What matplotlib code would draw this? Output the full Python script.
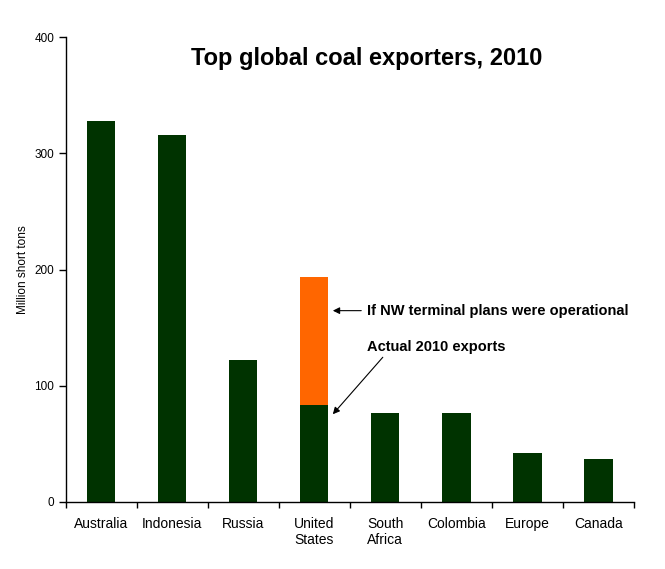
import matplotlib
matplotlib.use("Agg")
import matplotlib.pyplot as plt
import numpy as np

plt.rcParams['font.family'] = ['Liberation Sans', 'DejaVu Sans']

categories = ["Australia", "Indonesia", "Russia", "United\nStates",
              "South\nAfrica", "Colombia", "Europe", "Canada"]
actual_exports = [328, 316, 122, 83.4, 76.5, 76.5, 42, 37]
extra_if_terminal = [0, 0, 0, 110.3, 0, 0, 0, 0]
yticks = [0, 100, 200, 300, 400]

green = "#003300"
orange = "#FF6600"

fig = plt.figure(figsize=(6.65, 5.69), dpi=100)
ax = fig.add_axes([65.5/665, (569-502)/569, (634-65.5)/665, (502-37)/569])

x = np.arange(len(categories))
ax.bar(x, actual_exports, width=0.4, color=green, zorder=2)
ax.bar(x, extra_if_terminal, width=0.4, bottom=actual_exports, color=orange, zorder=2)

ax.set_xlim(-0.5, len(categories) - 0.5)
ax.set_ylim(0, 400)
ax.set_yticks(yticks)
ax.tick_params(axis='y', direction='out', length=5, width=1, labelsize=8.5, pad=3)

ax.set_xticks(np.arange(len(categories) + 1) - 0.5)
ax.set_xticklabels([])
ax.tick_params(axis='x', which='major', direction='out', length=4, width=1)
ax.set_xticks(x, minor=True)
ax.set_xticklabels(categories, minor=True, fontsize=10)
ax.tick_params(axis='x', which='minor', length=0, pad=11)

for s in ['top', 'right']:
    ax.spines[s].set_visible(False)
for s in ['left', 'bottom']:
    ax.spines[s].set_linewidth(1)

ax.set_ylabel("Million short tons", fontsize=8.5, labelpad=4)

fig.text(367/665, 1 - 58/569, "Top global coal exporters, 2010",
         fontsize=17, fontweight='bold', ha='center', va='center')

us = 3
arrow_kw = dict(arrowstyle='-|>', color='black', lw=0.8,
                mutation_scale=10, shrinkA=0, shrinkB=0)
ax.annotate("If NW terminal plans were operational",
            xy=(us + 0.262, 164.6), xytext=(us + 0.74, 164.6),
            fontsize=10.5, fontweight='bold', ha='left', va='center',
            arrowprops=dict(arrow_kw, shrinkA=2))
ax.text(us + 0.74, 133.5, "Actual 2010 exports", fontsize=10.5,
        fontweight='bold', ha='left', va='center')
ax.annotate("", xy=(us + 0.262, 75.5), xytext=(us + 0.965, 124.5),
            arrowprops=arrow_kw)

fig.savefig("out.png", dpi=100)
